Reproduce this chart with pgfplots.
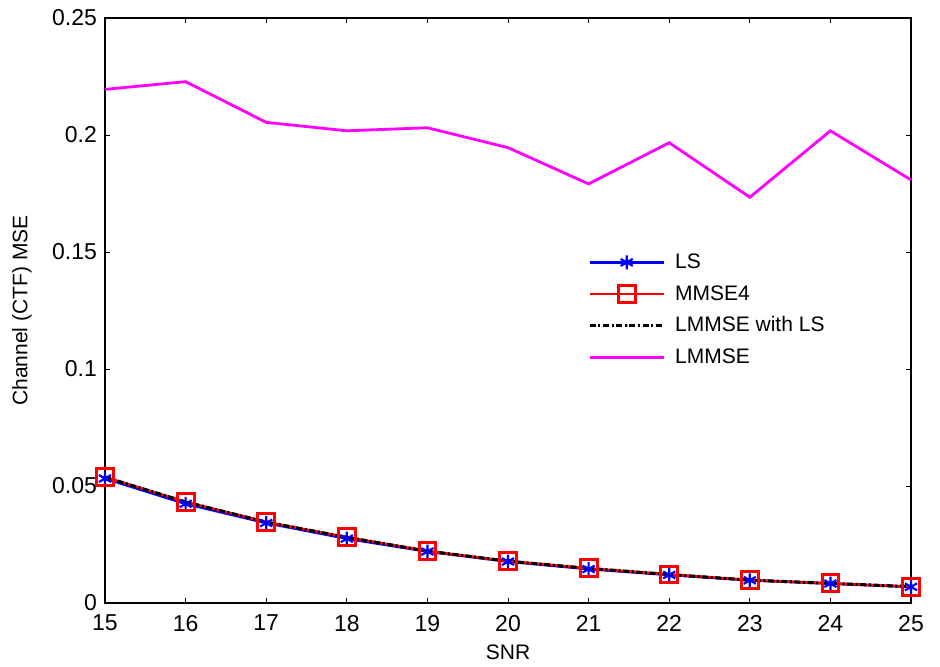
\documentclass[border=0pt]{standalone}
\usepackage{fontspec}
\setmainfont{Liberation Sans}
\usepackage{pgfplots}
\pgfplotsset{compat=1.18}
\begin{document}
\begin{tikzpicture}
\begin{axis}[
  scale only axis,
  width=403pt, height=292.5pt,
  xmin=15, xmax=25, ymin=0, ymax=0.25,
  xtick={15,16,...,25},
  ytick={0,0.05,0.1,0.15,0.2,0.25},
  yticklabels={0,0.05,0.1,0.15,0.2,0.25},
  tick align=inside, tick pos=both,
  major tick length=2.5pt,
  axis line style={line width=0.6pt},
  every tick/.style={black, line width=0.5pt},
  /pgf/number format/assume math mode=true,
  tick label style={font=\fontsize{11.5}{13}\selectfont},
  xticklabel style={yshift=-2.5pt},
  yticklabel style={xshift=-0.5pt},
  xlabel={SNR}, ylabel={Channel (CTF) MSE},
  label style={font=\fontsize{10.5}{12}\selectfont},
  xlabel style={at={(axis description cs:0.5,0)}, anchor=center, yshift=-24.5pt},
  ylabel style={at={(axis description cs:0,0.5)}, anchor=center, yshift=41.5pt},
  legend style={at={(0.599,0.600)}, anchor=north west, draw=none, fill=none,
    inner sep=0pt, row sep=5.8pt, column sep=5pt,
    nodes={inner sep=0pt, text height=8pt, text depth=2pt},
    font=\fontsize{10.5}{12}\selectfont},
  legend cell align=left,
  legend image code/.code={\draw[mark repeat=2,mark phase=2,#1] plot coordinates {(0cm,0cm) (0.65cm,0cm) (1.3cm,0cm)};},
]
\addplot[color={rgb,255:red,0;green,0;blue,255}, line width=1.3pt, mark=asterisk, mark size=3.5pt, mark options={solid, line width=1.1pt}]
  coordinates {(15,0.0532) (16,0.0424) (17,0.0342) (18,0.0275) (19,0.0220) (20,0.0177) (21,0.0145) (22,0.0120) (23,0.0097) (24,0.0083) (25,0.0069)};
\addlegendentry{LS}
\addplot[color={rgb,255:red,255;green,0;blue,0}, line width=1.3pt, mark=square, mark size=4.2pt, mark options={solid, line width=1.5pt}]
  coordinates {(15,0.0538) (16,0.0432) (17,0.0346) (18,0.0281) (19,0.0222) (20,0.0179) (21,0.0148) (22,0.0122) (23,0.0098) (24,0.0084) (25,0.0070)};
\addlegendentry{MMSE4}
\addplot[color=black, line width=1.5pt, dash pattern=on 3pt off 1.3pt on 1pt off 1.3pt]
  coordinates {(15,0.0538) (16,0.0432) (17,0.0346) (18,0.0281) (19,0.0222) (20,0.0179) (21,0.0148) (22,0.0122) (23,0.0098) (24,0.0084) (25,0.0070)};
\addlegendentry{LMMSE with LS}
\addplot[color={rgb,255:red,255;green,0;blue,255}, line width=1.4pt]
  coordinates {(15,0.2195) (16,0.2228) (17,0.2054) (18,0.2018) (19,0.2031) (20,0.1946) (21,0.1791) (22,0.1967) (23,0.1734) (24,0.2018) (25,0.1808)};
\addlegendentry{LMMSE}
\end{axis}
\pgfresetboundingbox
\path ([shift={(-52.5pt,-31.5pt)}]current axis.south west) rectangle ([shift={(14.5pt,9pt)}]current axis.north east);
\end{tikzpicture}
\end{document}
